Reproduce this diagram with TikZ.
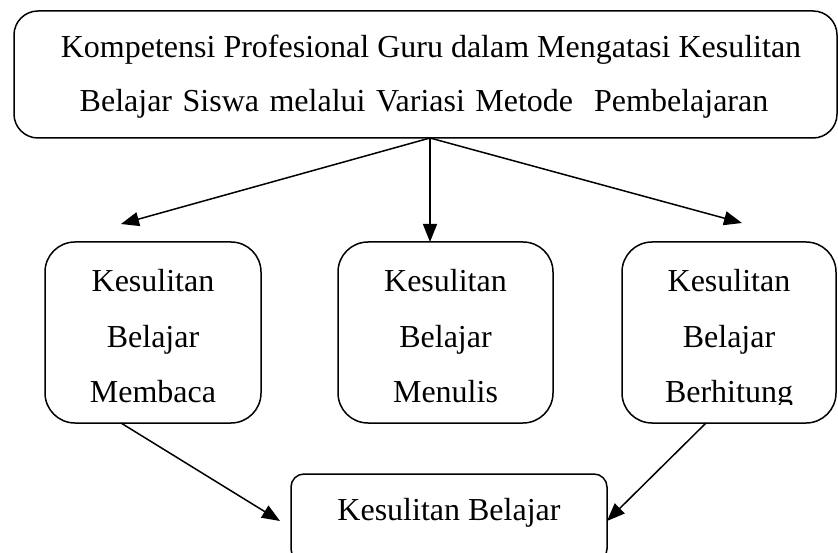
\documentclass[tikz,border=0pt]{standalone}
\usepackage{fontspec}
\setmainfont{Liberation Serif}
\usetikzlibrary{arrows.meta}
\begin{document}
\begin{tikzpicture}[x=1pt,y=-1pt,
  box/.style={draw, line width=1.5pt, inner sep=0pt, outer sep=0pt},
  txt/.style={font=\fontsize{32}{38}\selectfont, anchor=base, inner sep=0pt},
  arr/.style={line width=1.5pt, -{Triangle[length=18pt,width=14pt]}}]
\useasboundingbox (0,0) rectangle (838,553);
% boxes
\node[box, rounded corners=24pt, minimum width=823pt, minimum height=127pt] (top) at (425.5,74.5) {};
\node[box, rounded corners=30pt, minimum width=216pt, minimum height=181pt] (left) at (153,332.5) {};
\node[box, rounded corners=30pt, minimum width=215pt, minimum height=181pt] (mid) at (445.5,332.5) {};
\node[box, rounded corners=30pt, minimum width=214pt, minimum height=181pt] (right) at (729,332.5) {};
\node[box, rounded corners=13pt, minimum width=316pt, minimum height=88pt] (bot) at (449,518) {};
% texts
\node[txt] (t1) at (431,58) {Kompetensi Profesional Guru dalam Mengatasi Kesulitan};
\node[txt] (t2) at (424,112) {\spaceskip=10.5pt Belajar Siswa melalui Variasi Metode\ \ Pembelajaran};
\node[txt] (l1) at (153,292) {Kesulitan};
\node[txt] (l2) at (153,347) {Belajar};
\node[txt] (l3) at (153,402) {Membaca};
\node[txt] (m1) at (445.5,292) {Kesulitan};
\node[txt] (m2) at (445.5,347) {Belajar};
\node[txt] (m3) at (445.5,402) {Menulis};
\node[txt] (r1) at (729,292) {Kesulitan};
\node[txt] (r2) at (729,347) {Belajar};
\begin{scope}
\clip (622,242) rectangle (836,404);
\node[txt] (r3) at (729,402) {Berhitung};
\end{scope}
\node[txt] (b1) at (449,520) {Kesulitan Belajar};
% connector points
\coordinate (hub) at (430,138);
\coordinate (lend) at (121,224);
\coordinate (mend) at (430,242);
\coordinate (rend) at (742,223);
\coordinate (lstart) at (121,423);
\coordinate (rstart) at (706,423);
\coordinate (blend) at (280,521);
\coordinate (brend) at (607,521);
% arrows
\draw[arr] (hub) -- (lend);
\draw[arr] (hub) -- (mend);
\draw[arr] (hub) -- (rend);
\draw[arr] (lstart) -- (blend);
\draw[arr] (rstart) -- (brend);
\end{tikzpicture}
\end{document}
